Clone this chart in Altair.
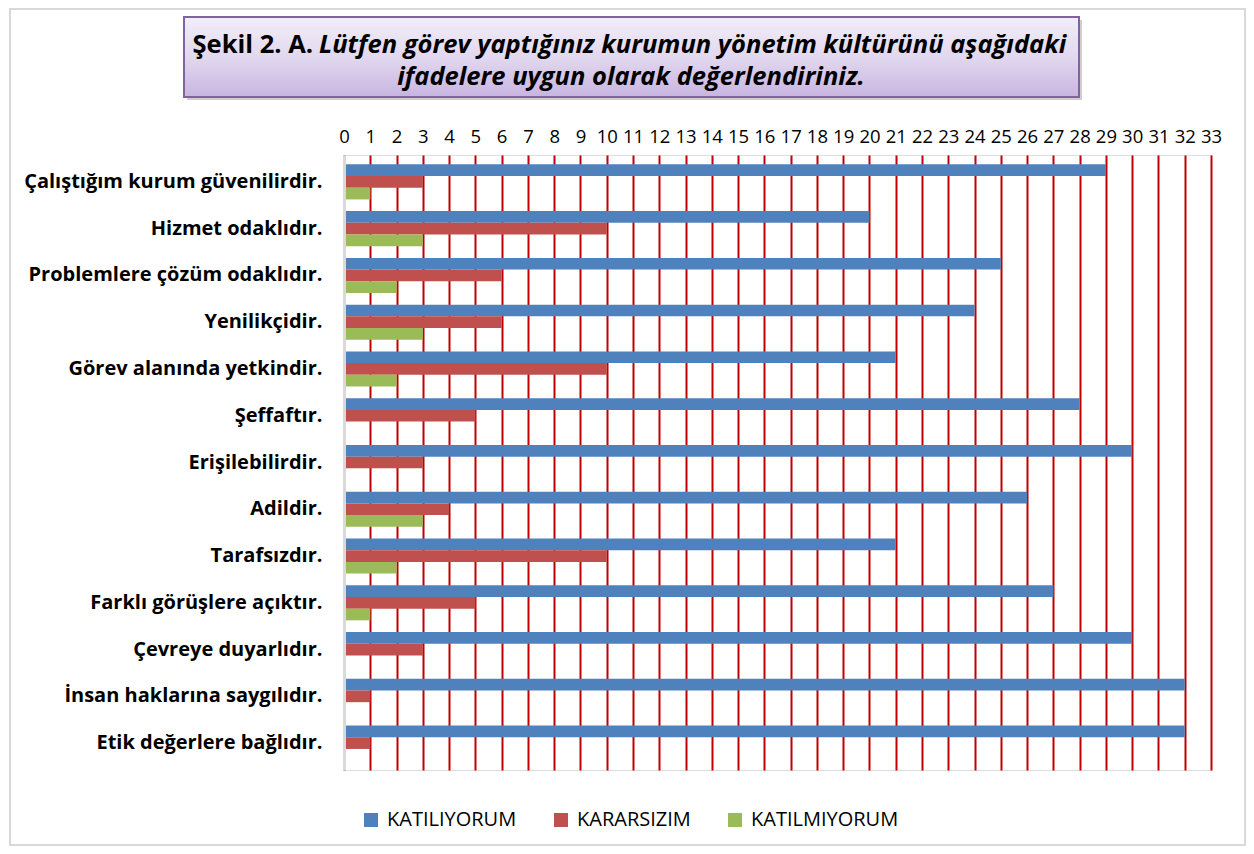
import altair as alt
import pandas as pd

categories = [
    "Çalıştığım kurum güvenilirdir.",
    "Hizmet odaklıdır.",
    "Problemlere çözüm odaklıdır.",
    "Yenilikçidir.",
    "Görev alanında yetkindir.",
    "Şeffaftır.",
    "Erişilebilirdir.",
    "Adildir.",
    "Tarafsızdır.",
    "Farklı görüşlere açıktır.",
    "Çevreye duyarlıdır.",
    "İnsan haklarına saygılıdır.",
    "Etik değerlere bağlıdır.",
]
series_names = ["KATILIYORUM", "KARARSIZIM", "KATILMIYORUM"]
katiliyorum = [29, 20, 25, 24, 21, 28, 30, 26, 21, 27, 30, 32, 32]
kararsizim = [3, 10, 6, 6, 10, 5, 3, 4, 10, 5, 3, 1, 1]
katilmiyorum = [1, 3, 2, 3, 2, 0, 0, 3, 2, 1, 0, 0, 0]
tick_values = list(range(0, 34))
colors = ["#4F81BD", "#C0504D", "#9BBB59"]

title_part1 = "Şekil 2. A."
title_part2 = "Lütfen görev yaptığınız kurumun yönetim kültürünü aşağıdaki"
title_line2 = "ifadelere uygun olarak değerlendiriniz."

rows = []
for s, vals in zip(series_names, [katiliyorum, kararsizim, katilmiyorum]):
    for c, v in zip(categories, vals):
        rows.append({"category": c, "series": s, "value": v})
df = pd.DataFrame(rows)

FONT = "Open Sans"
W, H = 867, 615

bars = alt.Chart(df).mark_bar().encode(
    x=alt.X("value:Q",
            scale=alt.Scale(domain=[0, 33], nice=False, zero=True),
            axis=alt.Axis(orient="top", values=tick_values, grid=True,
                          gridColor="#C00000", gridWidth=2, ticks=False,
                          domain=False, labelFontSize=18.5, labelFont=FONT,
                          labelColor="#000000", labelPadding=9,
                          labelOverlap=False, labelFlush=False, title=None)),
    y=alt.Y("category:N", sort=categories,
            scale=alt.Scale(paddingInner=0.25, paddingOuter=0.2),
            axis=alt.Axis(ticks=False, domainColor="#D9D9D9", domainWidth=3,
                          labelFontSize=20, labelFont=FONT, labelFontWeight="bold",
                          labelColor="#000000", labelPadding=22, labelLimit=500,
                          title=None, zindex=1)),
    yOffset=alt.YOffset("series:N", sort=series_names,
                        scale=alt.Scale(paddingInner=0, paddingOuter=0)),
    color=alt.Color("series:N",
                    scale=alt.Scale(domain=series_names, range=colors),
                    legend=alt.Legend(orient="none", legendX=17, legendY=655,
                                      direction="horizontal", title=None,
                                      symbolType="square", symbolSize=196,
                                      symbolStrokeWidth=0, labelFontSize=20,
                                      labelFont=FONT, labelColor="#000000",
                                      columnPadding=34, labelOffset=6,
                                      labelLimit=300)),
)

deco = alt.Data(values=[{"k": 1}])

frame = alt.Chart(deco).mark_rect(fillOpacity=0, stroke="#D9D9D9", strokeWidth=2).encode(
    x=alt.value(-334), x2=alt.value(901), y=alt.value(-146), y2=alt.value(690))

shadow = alt.Chart(deco).mark_rect(fill="#9E9E9E", opacity=0.5).encode(
    x=alt.value(-157), x2=alt.value(738), y=alt.value(-135), y2=alt.value(-55))

box = alt.Chart(deco).mark_rect(
    stroke="#8064A2", strokeWidth=2,
    fill=alt.Gradient(gradient="linear",
                      stops=[alt.GradientStop(color="#F2EEF8", offset=0),
                             alt.GradientStop(color="#E2D8EF", offset=0.5),
                             alt.GradientStop(color="#C8B5E0", offset=1)],
                      x1=0, x2=0, y1=0, y2=1)
).encode(x=alt.value(-160), x2=alt.value(735), y=alt.value(-138), y2=alt.value(-58))

t1 = alt.Chart(deco).mark_text(text=title_part1, font=FONT, fontSize=25.5,
                               fontWeight="bold", align="right", baseline="middle",
                               color="#000000").encode(
    x=alt.value(-31), y=alt.value(-110))
t2 = alt.Chart(deco).mark_text(text=title_part2, font=FONT, fontSize=25.5,
                               fontWeight="bold", fontStyle="italic", align="left",
                               baseline="middle", color="#000000").encode(
    x=alt.value(-25), y=alt.value(-110))
t3 = alt.Chart(deco).mark_text(text=title_line2, font=FONT, fontSize=25.5,
                               fontWeight="bold", fontStyle="italic", align="center",
                               baseline="middle", color="#000000").encode(
    x=alt.value(287), y=alt.value(-78))

chart = alt.layer(frame, shadow, box, t1, t2, t3, bars).properties(
    width=W, height=H,
    autosize=alt.AutoSizeParams(type="none"),
    padding={"left": 336, "top": 147, "right": 35, "bottom": 76},
).configure_view(stroke=None).configure(background="#FFFFFF")

chart.save("out.html", embed_options={"renderer": "svg", "actions": False})
